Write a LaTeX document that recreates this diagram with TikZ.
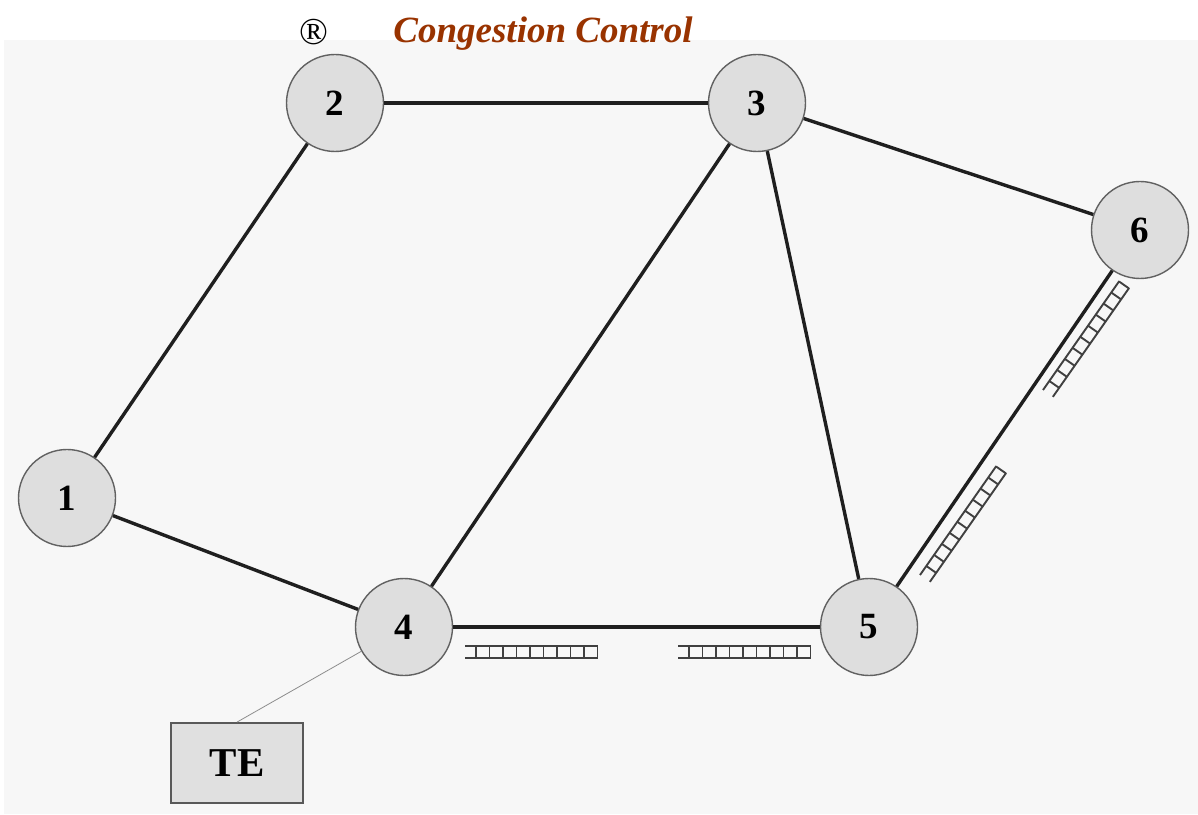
\documentclass[tikz,border=0pt]{standalone}
\usepackage{fontspec}
\setmainfont{Liberation Serif}
\definecolor{headbrown}{RGB}{153,51,0}
\begin{document}
\begin{tikzpicture}[x=1pt,y=1pt,
  router/.style={circle,draw=black!62,line width=1.4pt,fill=black!13,
    minimum size=97pt,inner sep=0pt,font=\fontsize{37}{40}\selectfont\bfseries},
  link/.style={draw=black!88,line width=3.4pt},
  queue/.style={draw=black!75,line width=1.9pt},
  tebox/.style={draw=black!65,line width=1.8pt,fill=black!12,
    minimum width=132pt,minimum height=80pt,inner sep=0pt,
    font=\fontsize{41}{44}\selectfont\bfseries}]
\useasboundingbox (0,0) rectangle (1198,814);
% page background
\fill[white] (0,0) rectangle (1198,814);
\fill[black!3] (4,0) rectangle (1198,774);

% heading
\node (reg) at (314,782) {\fontsize{38}{40}\selectfont\textregistered};
\node[text=headbrown, font=\fontsize{37}{40}\selectfont\bfseries\itshape]
  (title) at (543,780) {Congestion Control};

% routers
\node[router] (n1) at (67,316)  {1};
\node[router] (n2) at (335,711) {2};
\node[router] (n3) at (757,711) {3};
\node[router] (n4) at (404,187) {4};
\node[router] (n5) at (869,187) {5};
\node[router] (n6) at (1140,584) {6};

% terminal equipment
\node[tebox] (te) at (237,51) {TE};

% links
\draw[link] (n1) -- (n2);
\draw[link] (n2) -- (n3);
\draw[link] (n3) -- (n6);
\draw[link] (n3) -- (n4);
\draw[link] (n3) -- (n5);
\draw[link] (n1) -- (n4);
\draw[link] (n4) -- (n5);
\draw[link] (n5) -- (n6);
\draw[draw=black!45,line width=0.8pt] (te.north) -- (n4);

% output buffers (open end = tail of the queue)
\newcommand\bufq[3]{%
  \begin{scope}[shift={(#1,#2)},rotate=#3]
    \draw[queue] (0,0) -- (133,0) (0,-12) -- (133,-12);
    \foreach \i in {0,...,9} \draw[queue] ({11+\i*13.5},0) -- ++(0,-12);
  \end{scope}}
\bufq{465}{168}{0}
\bufq{678}{168}{0}
\bufq{920}{239}{55}
\bufq{1043}{424}{55}
\end{tikzpicture}
\end{document}
